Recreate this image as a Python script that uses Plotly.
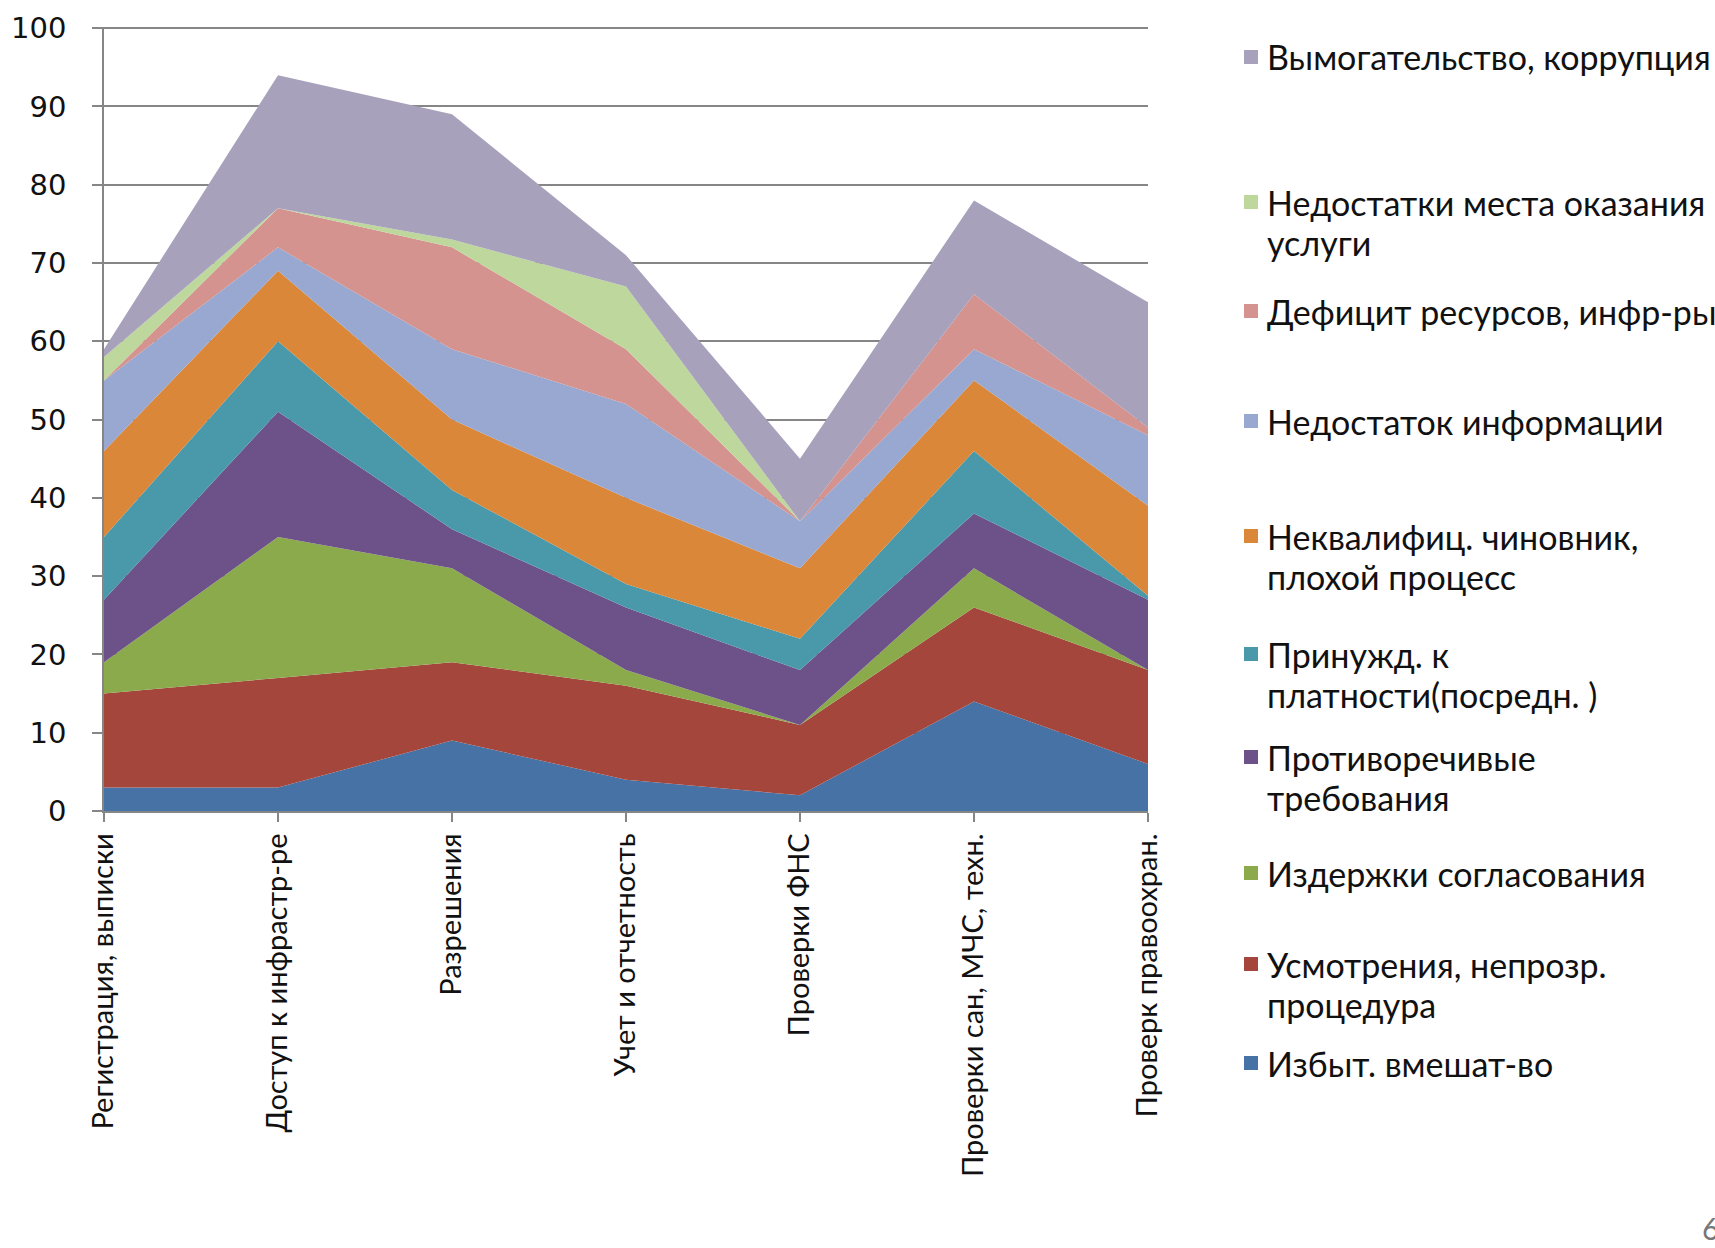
import plotly.graph_objects as go

# Categories along the x axis
categories = [
    "Регистрация, выписки",
    "Доступ к инфрастр-ре",
    "Разрешения",
    "Учет и отчетность",
    "Проверки ФНС",
    "Проверки сан, МЧС, техн.",
    "Проверк правоохран.",
]

# Stacked series, bottom to top
izbyt = [3, 3, 9, 4, 2, 14, 6]
usmotr = [12, 14, 10, 12, 9, 12, 12]
izderzh = [4, 18, 12, 2, 0, 5, 0]
protivor = [8, 16, 5, 8, 7, 7, 9]
prinuzhd = [8, 9, 5, 3, 4, 8, 0.5]
nekval = [11, 9, 9, 11, 9, 9, 11.5]
nedost_info = [9, 3, 9, 12, 6, 4, 9]
deficit = [0, 5, 13, 7, 0, 7, 1]
nedost_mesta = [3, 0, 1, 8, 0, 0, 0]
vymog = [1, 17, 16, 4, 8, 12, 16]

series_names = [
    "Избыт. вмешат-во",
    "Усмотрения, непрозр.<br>процедура",
    "Издержки согласования",
    "Противоречивые<br>требования",
    "Принужд. к<br>платности(посредн. )",
    "Неквалифиц. чиновник,<br>плохой процесс",
    "Недостаток информации",
    "Дефицит ресурсов, инфр-ры",
    "Недостатки места оказания<br>услуги",
    "Вымогательство, коррупция",
]
series_values = [izbyt, usmotr, izderzh, protivor, prinuzhd,
                 nekval, nedost_info, deficit, nedost_mesta, vymog]
series_colors = [
    "#4672A6", "#A5463D", "#8BAA4C", "#6D5289", "#4A99AB",
    "#DA873A", "#98A8D1", "#D5938F", "#BED79D", "#A7A1BC",
]

y_ticks = [0, 10, 20, 30, 40, 50, 60, 70, 80, 90, 100]

W, H = 1715, 1248
ML, MR, MT, MB = 104, 567, 27, 437
PW = W - ML - MR
PH = H - MT - MB

fig = go.Figure()
x_idx = list(range(len(categories)))
for name, vals, col in zip(series_names, series_values, series_colors):
    fig.add_trace(go.Scatter(
        x=x_idx, y=vals, name=name.replace("<br>", " "),
        stackgroup="one", mode="none",
        fillcolor=col, showlegend=False,
        hovertemplate="%{y}<extra></extra>",
    ))


def px_x(x):
    return (x - ML) / PW


def px_y(y):
    return (H - MB - y) / PH


# Legend drawn as coloured squares with labels, top entry first
legend_rows = [57, 202, 311, 421, 536, 654, 757, 873, 964, 1063]
line_step = 40
legend_font = dict(family="Lato", size=34, color="#111111")
legend_order = list(range(len(series_names)))[::-1]
annotations = []
shapes = []
for row_y, idx in zip(legend_rows, legend_order):
    shapes.append(dict(
        type="rect", xref="paper", yref="paper",
        x0=px_x(1244), x1=px_x(1258),
        y0=px_y(row_y + 7), y1=px_y(row_y - 7),
        fillcolor=series_colors[idx], line=dict(width=0),
    ))
    for k, line in enumerate(series_names[idx].split("<br>")):
        annotations.append(dict(
            xref="paper", yref="paper",
            x=px_x(1265), y=px_y(row_y + k * line_step),
            xanchor="left", yanchor="middle", align="left",
            text=line, showarrow=False, font=legend_font,
        ))

# page number in the corner
annotations.append(dict(
    xref="paper", yref="paper", x=px_x(1700), y=px_y(1228),
    xanchor="left", yanchor="middle", text="6", showarrow=False,
    font=dict(family="Lato", size=30, color="#777777"),
))

fig.update_layout(
    width=W, height=H,
    margin=dict(l=ML, r=MR, t=MT, b=MB, autoexpand=False),
    paper_bgcolor="white", plot_bgcolor="white",
    shapes=shapes, annotations=annotations,
    showlegend=False,
    xaxis=dict(
        range=[0, len(categories) - 1],
        tickmode="array", tickvals=x_idx, ticktext=categories,
        tickangle=-90, ticks="outside", ticklen=9, tickcolor="#868686",
        tickwidth=1.5,
        showgrid=False, zeroline=False,
        showline=True, linecolor="#868686", linewidth=1.5,
        tickfont=dict(family="Lato", size=29, color="#111111"),
        fixedrange=True,
    ),
    yaxis=dict(
        range=[0, 100.15], tickmode="array", tickvals=y_ticks,
        ticks="outside", ticklen=10, tickcolor="#868686", tickwidth=1.5,
        showgrid=True, gridcolor="#868686", gridwidth=1.5,
        zeroline=False, showline=True, linecolor="#868686", linewidth=1.5,
        tickfont=dict(family="DejaVu Sans", size=29, color="#111111"),
        ticklabelstandoff=20,
        fixedrange=True,
    ),
)

fig.write_html("out.html")
